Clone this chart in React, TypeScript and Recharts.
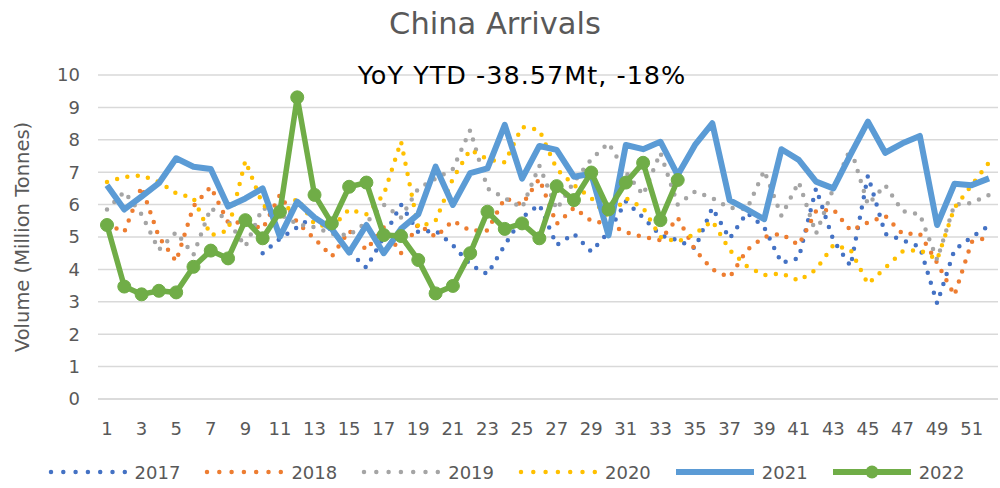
import React from 'react';
import { LineChart, Line, XAxis, YAxis, CartesianGrid, Legend, Label } from 'recharts';

const weeks = [1, 2, 3, 4, 5, 6, 7, 8, 9, 10, 11, 12, 13, 14, 15, 16, 17, 18, 19, 20, 21, 22, 23, 24, 25, 26,
  27, 28, 29, 30, 31, 32, 33, 34, 35, 36, 37, 38, 39, 40, 41, 42, 43, 44, 45, 46, 47, 48, 49, 50, 51, 52];

const yTicks = [0, 1, 2, 3, 4, 5, 6, 7, 8, 9, 10];

const v2017 = [null, null, null, null, null, null, null, null, null,
  4.5, 4.95, 5.3, 5.65, 5.2, 4.55, 4.05, 5.0, 6.0, 5.15, 5.2, 4.75, 4.15, 3.85, 4.75, 5.6, 6.0,
  4.75, 5.1, 4.55, 5.15, 6.1, 5.6, 5.05, 4.9, 4.65, 5.9, 4.95, 5.75, 5.3, 4.2, 4.35, 6.5, 4.9,
  4.1, 6.9, 5.1, 4.9, 4.7, 2.95, 4.6, 5.0, 5.35];

const v2018 = [5.4, 5.15, 6.55, 5.0, 4.25, 5.95, 6.55, 5.45, 5.45, 5.25, 6.3, 5.45, 4.95, 4.4, 5.2,
  4.6, 5.3, 4.5, 5.4, 5.0, 5.5, 5.2, 5.2, 6.2, 6.0, 6.8, 5.4, 5.9, 5.5, 5.4, 5.15, 5.0, 4.9, 5.6,
  4.6, 4.0, 3.75, 4.6, 5.0, 5.1, 4.75, 5.8, 5.85, 5.2, 5.45, 5.65, 5.1, 5.1, 4.2, 3.2, 4.85, 5.0];

const v2019 = [5.85, 6.4, 5.7, 4.6, 5.15, 4.45, 5.9, 5.5, 4.7, 5.9, 5.7, 5.4, 5.3, 5.1, 5.05, 5.45,
  6.0, 5.6, 6.5, 6.8, 7.1, 8.3, 6.5, 6.2, 5.9, 7.2, 5.85, 6.7, 7.4, 7.9, 7.0, 6.3, 7.6, 6.0, 6.4,
  6.2, 5.9, 5.85, 7.05, 5.65, 6.7, 5.1, 6.5, 7.75, 6.0, 6.6, 5.8, 5.7, 4.3, 6.0, 6.05, 6.3];

const v2020 = [6.7, 6.85, 6.9, 6.7, 6.35, 6.2, 5.05, 5.2, 7.35, 6.0, 5.6, 6.2, 5.4, 5.3, 5.85, 5.7,
  6.3, 7.95, 5.3, 5.5, 6.8, 7.7, 7.4, 7.3, 8.4, 8.3, 7.1, 6.6, 6.2, 5.6, 6.2, 5.9, 5.0, 4.85, 5.1,
  5.5, 4.6, 4.1, 3.82, 3.88, 3.65, 4.0, 4.75, 4.6, 3.55, 4.05, 4.55, 4.6, 4.3, 5.9, 6.6, 7.3];

const v2021 = [6.6, 5.85, 6.25, 6.66, 7.43, 7.17, 7.1, 5.94, 6.19, 6.5, 5.01, 6.09, 5.6, 5.25, 4.52,
  5.37, 4.5, 5.25, 5.7, 7.17, 5.99, 6.97, 7.12, 8.46, 6.8, 7.81, 7.69, 6.86, 6.95, 5.05, 7.84, 7.71,
  7.94, 6.91, 7.84, 8.51, 6.14, 5.85, 5.55, 7.71, 7.38, 6.71, 6.5, 7.55, 8.56, 7.6, 7.89, 8.12, 5.37,
  6.64, 6.6, 6.81];

const v2022 = [5.37, 3.47, 3.23, 3.34, 3.29, 4.08, 4.58, 4.34, 5.52, 4.96, 5.78, 9.31, 6.3, 5.42,
  6.55, 6.68, 5.06, 5.03, 4.29, 3.26, 3.49, 4.5, 5.78, 5.25, 5.42, 4.96, 6.57, 6.14, 6.99, 5.85,
  6.68, 7.29, 5.52, 6.76];

const seriesNames = ['2017', '2018', '2019', '2020', '2021', '2022'];
const seriesColors = ['#4472C4', '#ED7D31', '#A5A5A5', '#FFC000', '#5B9BD5', '#70AD47'];
const seriesKinds = ['dot', 'dot', 'dot', 'dot', 'solid', 'marker'];
const seriesValues = [v2017, v2018, v2019, v2020, v2021, v2022];

const data = weeks.map((w, i) => {
  const row: Record<string, any> = { week: String(w) };
  seriesNames.forEach((n, s) => {
    const v = seriesValues[s][i];
    row['y' + n] = v === undefined ? null : v;
  });
  return row;
});

const FONT = '"DejaVu Sans", sans-serif';
const TEXT = '#595959';

function LegendContent() {
  return (
    <div style={{ display: 'flex', justifyContent: 'center', alignItems: 'center', height: 30,
      fontFamily: FONT, fontSize: 18, color: TEXT, paddingLeft: 14 }}>
      {seriesNames.map((n, s) => (
        <div key={n} style={{ display: 'flex', alignItems: 'center', marginRight: s < 5 ? 24 : 0 }}>
          <svg width={80} height={20} style={{ display: 'block' }}>
            {seriesKinds[s] === 'dot' ? (
              <line x1={3} y1={10} x2={77} y2={10} stroke={seriesColors[s]} strokeWidth={4.5}
                strokeDasharray="0 12.3" strokeLinecap="round" />
            ) : (
              <line x1={1} y1={10} x2={79} y2={10} stroke={seriesColors[s]} strokeWidth={6} />
            )}
            {seriesKinds[s] === 'marker' && <circle cx={40} cy={10} r={6.5} fill={seriesColors[s]} />}
          </svg>
          <span style={{ marginLeft: 7 }}>{n}</span>
        </div>
      ))}
    </div>
  );
}

const yLabel = () => (
  <text x={22} y={237} transform="rotate(-90 22 237)" textAnchor="middle" dominantBaseline="central"
    fill={TEXT} fontSize={19.5} fontFamily={FONT}>Volume (Million Tonnes)</text>
);

export default function App() {
  return (
    <div style={{ position: 'absolute', left: 0, top: 0, width: 1000, height: 488, overflow: 'hidden',
      background: '#fff' }}>
      <LineChart width={1000} height={488} data={data}
        margin={{ top: 75, right: 2, bottom: 1, left: 0 }}>
        <CartesianGrid vertical={false} stroke="#D9D9D9" strokeWidth={1.5} />
        <XAxis dataKey="week" interval={1} tickLine={false} axisLine={{ stroke: '#D9D9D9', strokeWidth: 1.5 }}
          padding={{ left: 9, right: 9 }}
          height={58} tickMargin={17} tick={{ fill: TEXT, fontSize: 18, fontFamily: FONT }} />
        <YAxis type="number" domain={[0, 10]} ticks={yTicks} interval={0} width={98} tickLine={false}
          axisLine={false} tickMargin={12} tick={{ fill: TEXT, fontSize: 18, fontFamily: FONT }}>
          <Label content={yLabel} />
        </YAxis>
        <Legend verticalAlign="bottom" height={30} content={() => <LegendContent />} />
        {seriesNames.map((n, s) => {
          const kind = seriesKinds[s];
          if (kind === 'dot') {
            return (
              <Line key={n} type="linear" dataKey={'y' + n} name={n} stroke={seriesColors[s]}
                strokeWidth={4.5} strokeDasharray="0 10.5" strokeLinecap="round" dot={false}
                activeDot={false} isAnimationActive={false} connectNulls={false} />
            );
          }
          if (kind === 'solid') {
            return (
              <Line key={n} type="linear" dataKey={'y' + n} name={n} stroke={seriesColors[s]}
                strokeWidth={6} strokeLinejoin="round" dot={false} activeDot={false}
                isAnimationActive={false} />
            );
          }
          return (
            <Line key={n} type="linear" dataKey={'y' + n} name={n} stroke={seriesColors[s]}
              strokeWidth={5.5} strokeLinejoin="round"
              dot={{ r: 6.5, fill: seriesColors[s], stroke: seriesColors[s], strokeWidth: 1 }}
              activeDot={false} isAnimationActive={false} />
          );
        })}
      </LineChart>
      <div style={{ position: 'absolute', left: 0, top: 5, width: 990, textAlign: 'center',
        fontFamily: FONT, fontSize: 30.5, color: TEXT, lineHeight: '38px' }}>China Arrivals</div>
      <div style={{ position: 'absolute', left: 0, top: 60, width: 1044, textAlign: 'center',
        fontFamily: FONT, fontSize: 25.5, color: '#000', lineHeight: '30px', letterSpacing: 1 }}>
        YoY YTD -38.57Mt, -18%</div>
    </div>
  );
}
